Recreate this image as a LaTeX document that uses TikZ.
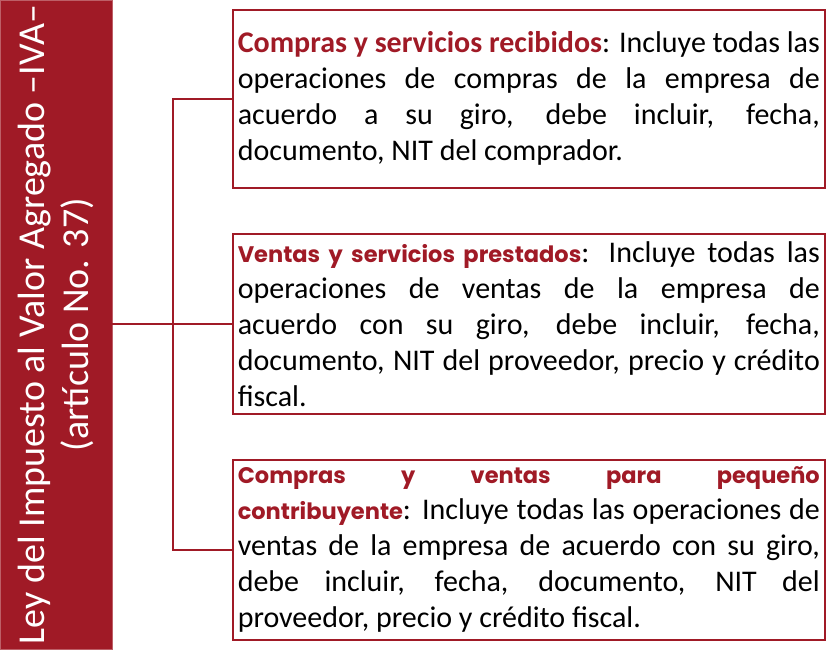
\documentclass[tikz,border=0pt]{standalone}
\usepackage{fontspec}
\setmainfont{Carlito}
\newfontfamily\gothic{Poppins}
\usetikzlibrary{positioning}
\definecolor{ivared}{RGB}{160,26,38}
\newcommand{\redtitle}[1]{{\bfseries\color{ivared}#1}}
\newcommand{\gothtitle}[1]{{\gothic\bfseries\fontsize{22.5}{35.5}\selectfont\color{ivared}#1}}
\tolerance=10000
\hyphenpenalty=10000

\begin{document}
\begin{tikzpicture}[x=1pt,y=-1pt]
\tikzstyle{every node}+=[inner sep=0pt]
\tikzstyle{infobox}=[draw=ivared, line width=1.6pt, anchor=north west,
  minimum width=592pt, text width=582pt, inner xsep=5pt, align=justify,
  font=\fontsize{30}{36}\selectfont]
\tikzstyle{lawbox}=[fill=ivared, draw=ivared!70, line width=0.8pt, rotate=90,
  minimum width=649pt, minimum height=112pt, text=white, align=center,
  font=\fontsize{38}{44}\selectfont]
\tikzstyle{link}=[draw=ivared, line width=1.5pt]
\useasboundingbox (0,0) rectangle (835,651);

% left bar
\node[lawbox] (law) at (56,324.5) {Ley del Impuesto al Valor Agregado –IVA–\\(artículo No. 37)};

% the three boxes
\node[infobox, minimum height=178pt] (compras) at (232,9)
  {\redtitle{Compras y servicios recibidos}: Incluye todas las\linebreak
   operaciones de compras de la empresa de\linebreak
   acuerdo a su giro, debe incluir, fecha,\linebreak
   documento, NIT del comprador.};
\node[infobox, minimum height=180pt] (ventas) at (232,233)
  {\gothtitle{Ventas y servicios prestados}: Incluye todas las\linebreak
   operaciones de ventas de la empresa de\linebreak
   acuerdo con su giro, debe incluir, fecha,\linebreak
   documento, NIT del proveedor, precio y crédito\linebreak
   fiscal.};
\node[infobox, minimum height=180pt] (pequeno) at (232,459)
  {\gothtitle{Compras y ventas para pequeño}\linebreak
   \gothtitle{contribuyente}: Incluye todas las operaciones de\linebreak
   ventas de la empresa de acuerdo con su giro,\linebreak
   debe incluir, fecha, documento, NIT del\linebreak
   proveedor, precio y crédito fiscal.};

% connectors
\draw[link] (law.south |- ventas.west) -- (ventas.west);
\draw[link] (compras.west) -- ++(-59,0) |- (pequeno.west);
\end{tikzpicture}
\end{document}
